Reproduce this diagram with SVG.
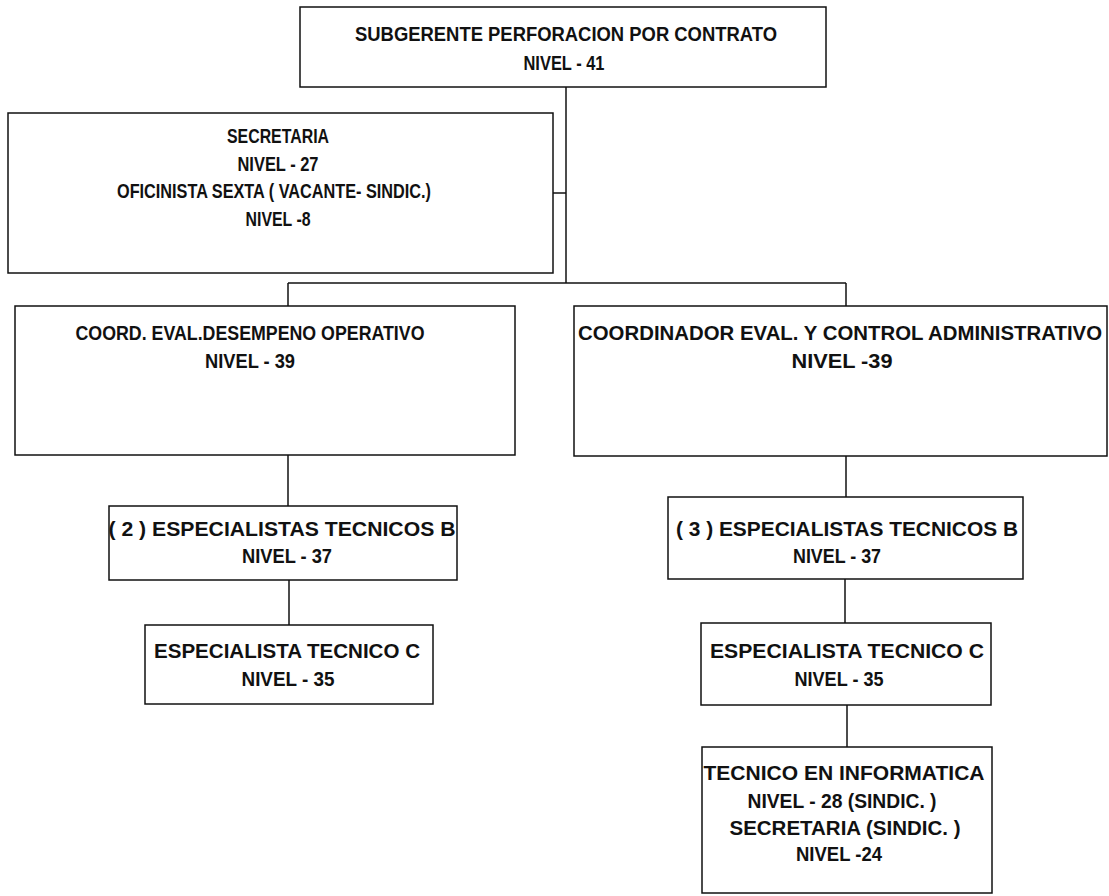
<svg xmlns="http://www.w3.org/2000/svg" width="1109" height="896" viewBox="0 0 1109 896">
<style>
.box{fill:#fff;stroke:#111;stroke-width:1.5}
.ln{stroke:#111;stroke-width:1.5;fill:none}
text{font-family:"Liberation Sans Narrow","Liberation Sans",Arial,sans-serif;font-weight:bold;font-size:21px;fill:#111;text-anchor:middle}
</style>
<rect width="1109" height="896" fill="#fff"/>
<g id="connectors">
<line class="ln" x1="566" y1="87" x2="566" y2="283"/>
<line class="ln" x1="553" y1="193" x2="566" y2="193"/>
<line class="ln" x1="288" y1="283" x2="846" y2="283"/>
<line class="ln" x1="288" y1="283" x2="288" y2="306"/>
<line class="ln" x1="846" y1="283" x2="846" y2="306"/>
<line class="ln" x1="288" y1="455" x2="288" y2="506"/>
<line class="ln" x1="289" y1="580" x2="289" y2="625"/>
<line class="ln" x1="846" y1="456" x2="846" y2="497"/>
<line class="ln" x1="845" y1="579" x2="845" y2="623"/>
<line class="ln" x1="847" y1="705" x2="847" y2="747"/>
</g>
<g id="n-subgerente">
<rect class="box" x="300" y="7" width="526" height="80"/>
<text x="566" y="41" textLength="422" lengthAdjust="spacingAndGlyphs">SUBGERENTE PERFORACION POR CONTRATO</text>
<text x="564" y="70" textLength="81" lengthAdjust="spacingAndGlyphs">NIVEL - 41</text>
</g>
<g id="n-secretaria">
<rect class="box" x="8" y="113" width="545" height="160"/>
<text x="278" y="143" textLength="102" lengthAdjust="spacingAndGlyphs">SECRETARIA</text>
<text x="278" y="171" textLength="81" lengthAdjust="spacingAndGlyphs">NIVEL - 27</text>
<text x="274" y="198" textLength="314" lengthAdjust="spacingAndGlyphs">OFICINISTA SEXTA ( VACANTE- SINDIC.)</text>
<text x="278" y="226" textLength="65" lengthAdjust="spacingAndGlyphs">NIVEL -8</text>
</g>
<g id="n-coord-operativo">
<rect class="box" x="15" y="306" width="500" height="149"/>
<text x="250" y="340" textLength="349" lengthAdjust="spacingAndGlyphs">COORD. EVAL.DESEMPENO OPERATIVO</text>
<text x="250" y="368" textLength="90" lengthAdjust="spacingAndGlyphs">NIVEL - 39</text>
</g>
<g id="n-coord-admin">
<rect class="box" x="574" y="306" width="533" height="150"/>
<text transform="translate(840,340) scale(1,1.1)" x="0" y="0" style="font-size:19px" textLength="524" lengthAdjust="spacingAndGlyphs">COORDINADOR EVAL. Y CONTROL ADMINISTRATIVO</text>
<text x="842" y="368" textLength="101" lengthAdjust="spacingAndGlyphs">NIVEL -39</text>
</g>
<g id="n-esp-b-left">
<rect class="box" x="109" y="506" width="348" height="74"/>
<text x="282" y="536" textLength="347" lengthAdjust="spacingAndGlyphs">( 2 ) ESPECIALISTAS TECNICOS B</text>
<text x="287" y="563" textLength="90" lengthAdjust="spacingAndGlyphs">NIVEL - 37</text>
</g>
<g id="n-esp-c-left">
<rect class="box" x="145" y="625" width="288" height="79"/>
<text x="287" y="658" textLength="266" lengthAdjust="spacingAndGlyphs">ESPECIALISTA TECNICO C</text>
<text x="288" y="686" textLength="93" lengthAdjust="spacingAndGlyphs">NIVEL - 35</text>
</g>
<g id="n-esp-b-right">
<rect class="box" x="668" y="497" width="355" height="82"/>
<text x="847" y="536" textLength="342" lengthAdjust="spacingAndGlyphs">( 3 ) ESPECIALISTAS TECNICOS B</text>
<text x="837" y="563" textLength="88" lengthAdjust="spacingAndGlyphs">NIVEL - 37</text>
</g>
<g id="n-esp-c-right">
<rect class="box" x="701" y="623" width="290" height="82"/>
<text x="847" y="658" textLength="274" lengthAdjust="spacingAndGlyphs">ESPECIALISTA TECNICO C</text>
<text x="839" y="686" textLength="89" lengthAdjust="spacingAndGlyphs">NIVEL - 35</text>
</g>
<g id="n-tecnico-informatica">
<rect class="box" x="702" y="747" width="290" height="146"/>
<text x="844" y="780" textLength="281" lengthAdjust="spacingAndGlyphs">TECNICO EN INFORMATICA</text>
<text x="842" y="808" textLength="189" lengthAdjust="spacingAndGlyphs">NIVEL - 28 (SINDIC. )</text>
<text x="845" y="835" textLength="231" lengthAdjust="spacingAndGlyphs">SECRETARIA (SINDIC. )</text>
<text x="839" y="861" textLength="86" lengthAdjust="spacingAndGlyphs">NIVEL -24</text>
</g>
</svg>
